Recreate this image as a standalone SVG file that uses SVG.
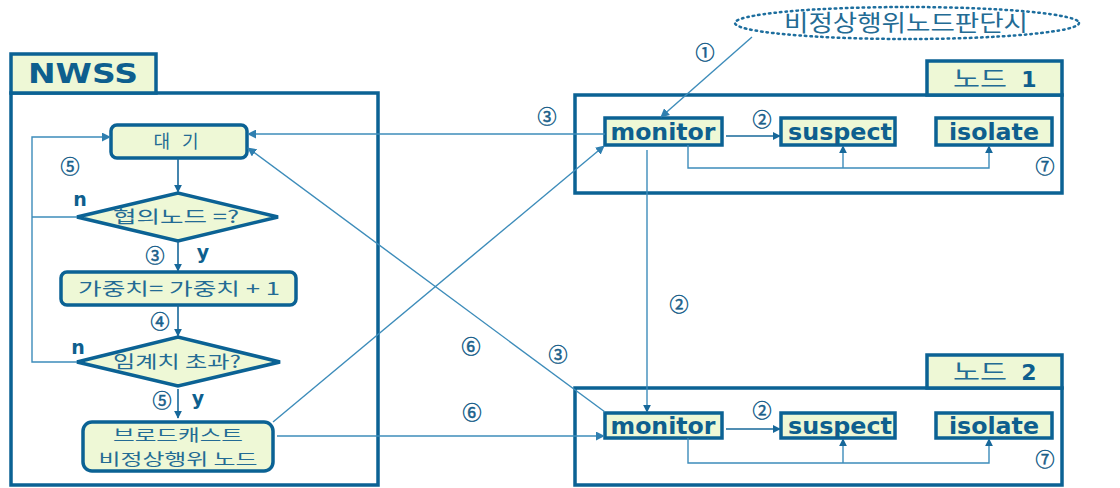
<svg xmlns="http://www.w3.org/2000/svg" width="1120" height="488" viewBox="0 0 1120 488">
<defs>
<marker id="ah" viewBox="0 0 10 10" refX="9" refY="5" markerWidth="8" markerHeight="8" markerUnits="userSpaceOnUse" orient="auto"><path d="M0,0 L10,5 L0,10 z" fill="#17689a"/></marker>
<marker id="ahl" viewBox="0 0 10 10" refX="9" refY="5" markerWidth="9" markerHeight="9" markerUnits="userSpaceOnUse" orient="auto"><path d="M0,0 L10,5 L0,10 z" fill="#2f7fb0"/></marker>
</defs>
<style>
.panel{fill:#ffffff;stroke:#0b6294;stroke-width:3.5}
.tab{fill:#eef8d6;stroke:#0b6294;stroke-width:3.5}
.box{fill:#eef8d6;stroke:#0b6294;stroke-width:3.5}
.flow{fill:none;stroke:#17689a;stroke-width:1.6}
.conn{fill:none;stroke:#3d8cba;stroke-width:1.4}
.st{font-family:"DejaVu Sans",Verdana,sans-serif;font-weight:bold;fill:#0e5f8e;text-anchor:middle}
.kr{font-family:"Noto Sans CJK KR",sans-serif;fill:#236b94;text-anchor:middle}
.num{font-family:"Noto Sans CJK KR",sans-serif;fill:#1a5f8a;stroke:#1a5f8a;stroke-width:0.5;text-anchor:middle;font-size:19px}
.yn{font-family:"DejaVu Sans",Verdana,sans-serif;font-weight:bold;fill:#0e5f8e;font-size:19px;text-anchor:middle}
</style>

<g id="nwss">
<rect class="panel" x="11" y="93" width="367" height="392"/>
<rect class="tab" x="11" y="54" width="145" height="39"/>
<text class="st" x="83" y="83" font-size="26" textLength="110" lengthAdjust="spacingAndGlyphs">NWSS</text>
</g>

<g id="wait">
<rect class="box" x="111" y="125" width="136" height="33" rx="6"/>
<text class="kr" x="176" y="148" font-size="18" textLength="45" lengthAdjust="spacing">대 기</text>
</g>
<g id="dec1">
<polygon class="box" points="77,217 178,193 278,217 178,241"/>
<text class="kr" x="176" y="223" font-size="17.5" textLength="126" lengthAdjust="spacingAndGlyphs">협의노드 =?</text>
</g>
<g id="weight">
<rect class="box" x="61" y="272" width="235" height="33" rx="6"/>
<text class="kr" x="179" y="295" font-size="17.5" textLength="202" lengthAdjust="spacingAndGlyphs">가중치= 가중치 + 1</text>
</g>
<g id="dec2">
<polygon class="box" points="77,362 178,337 280,362 178,386"/>
<text class="kr" x="177" y="368" font-size="17.5" textLength="128" lengthAdjust="spacingAndGlyphs">임계치 초과?</text>
</g>
<g id="broadcast">
<rect class="box" x="83" y="422" width="190" height="49" rx="9"/>
<text class="kr" x="178" y="441" font-size="16" textLength="130" lengthAdjust="spacingAndGlyphs">브로드캐스트</text>
<text class="kr" x="178" y="465" font-size="16" textLength="159" lengthAdjust="spacingAndGlyphs">비정상행위 노드</text>
</g>

<g id="judge">
<ellipse cx="907" cy="23" rx="172" ry="16" fill="none" stroke="#1d6e9e" stroke-width="2.5" stroke-dasharray="1.5 4" stroke-linecap="round"/>
<text class="kr" x="906" y="31" font-size="23" textLength="244" lengthAdjust="spacingAndGlyphs" fill="#3a7fa8">비정상행위노드판단시</text>
</g>

<g id="node1">
<rect class="panel" x="575" y="95" width="487" height="98"/>
<rect class="tab" x="927" y="61" width="135" height="34"/>
<text class="kr" x="980" y="87" font-size="23" textLength="54" lengthAdjust="spacingAndGlyphs" fill="#3a7fa8">노드</text>
<text class="st" x="1029" y="87" font-size="22">1</text>
</g>
<g id="n1monitor"><rect class="box" x="605" y="118" width="117" height="27"/><text class="st" x="663" y="140" font-size="23" textLength="105" lengthAdjust="spacingAndGlyphs">monitor</text></g>
<g id="n1suspect"><rect class="box" x="781" y="118" width="114" height="27"/><text class="st" x="840" y="140" font-size="23" textLength="104" lengthAdjust="spacingAndGlyphs">suspect</text></g>
<g id="n1isolate"><rect class="box" x="936" y="118" width="116" height="27"/><text class="st" x="994" y="140" font-size="23" textLength="90" lengthAdjust="spacingAndGlyphs">isolate</text></g>

<g id="node2">
<rect class="panel" x="575" y="388" width="487" height="97"/>
<rect class="tab" x="927" y="355" width="135" height="33"/>
<text class="kr" x="980" y="380" font-size="23" textLength="54" lengthAdjust="spacingAndGlyphs" fill="#3a7fa8">노드</text>
<text class="st" x="1029" y="380" font-size="22">2</text>
</g>
<g id="n2monitor"><rect class="box" x="605" y="413" width="117" height="25"/><text class="st" x="663" y="434" font-size="23" textLength="105" lengthAdjust="spacingAndGlyphs">monitor</text></g>
<g id="n2suspect"><rect class="box" x="781" y="413" width="114" height="25"/><text class="st" x="840" y="434" font-size="23" textLength="104" lengthAdjust="spacingAndGlyphs">suspect</text></g>
<g id="n2isolate"><rect class="box" x="936" y="413" width="116" height="25"/><text class="st" x="994" y="434" font-size="23" textLength="90" lengthAdjust="spacingAndGlyphs">isolate</text></g>

<g id="connectors">
<line class="flow" x1="178" y1="158" x2="178" y2="192" marker-end="url(#ah)"/>
<line class="flow" x1="178" y1="241" x2="178" y2="271" marker-end="url(#ah)"/>
<line class="flow" x1="178" y1="305" x2="178" y2="336" marker-end="url(#ah)"/>
<line class="flow" x1="178" y1="389" x2="178" y2="418" marker-end="url(#ah)"/>
<polyline class="conn" points="77,217 32,217"/>
<polyline class="conn" points="77,362 32,362 32,137 110,137" marker-end="url(#ahl)"/>
<line class="flow" x1="726" y1="136" x2="780" y2="136" marker-end="url(#ah)"/>
<polyline class="conn" points="688,145 688,168 989,168 989,146" marker-end="url(#ah)"/>
<line class="conn" x1="843" y1="168" x2="843" y2="146" marker-end="url(#ah)"/>
<line class="flow" x1="726" y1="429" x2="780" y2="429" marker-end="url(#ah)"/>
<polyline class="conn" points="688,438 688,463 989,463 989,439" marker-end="url(#ah)"/>
<line class="conn" x1="843" y1="463" x2="843" y2="439" marker-end="url(#ah)"/>
<line class="conn" x1="752" y1="37" x2="661" y2="117" marker-end="url(#ahl)"/>
<line class="conn" x1="605" y1="134" x2="248" y2="134" marker-end="url(#ahl)"/>
<line class="conn" x1="273" y1="422" x2="604" y2="146" marker-end="url(#ahl)"/>
<line class="conn" x1="605" y1="412" x2="248" y2="148" marker-end="url(#ahl)"/>
<line class="conn" x1="277" y1="436" x2="604" y2="436" marker-end="url(#ahl)"/>
<line class="conn" x1="647" y1="150" x2="647" y2="412" marker-end="url(#ah)"/>
</g>

<g id="labels">
<text class="num" x="705" y="60">①</text>
<text class="num" x="762" y="127">②</text>
<text class="num" x="762" y="418">②</text>
<text class="num" x="679" y="312">②</text>
<text class="num" x="547" y="124">③</text>
<text class="num" x="558" y="362">③</text>
<text class="num" x="155" y="263">③</text>
<text class="num" x="160" y="329">④</text>
<text class="num" x="70" y="174">⑤</text>
<text class="num" x="162" y="408">⑤</text>
<text class="num" x="471" y="354">⑥</text>
<text class="num" x="472" y="420">⑥</text>
<text class="num" x="1045" y="174">⑦</text>
<text class="num" x="1045" y="467">⑦</text>
<text class="yn" x="80" y="206">n</text>
<text class="yn" x="78" y="354">n</text>
<text class="yn" x="203" y="259">y</text>
<text class="yn" x="198" y="405">y</text>
</g>
</svg>
